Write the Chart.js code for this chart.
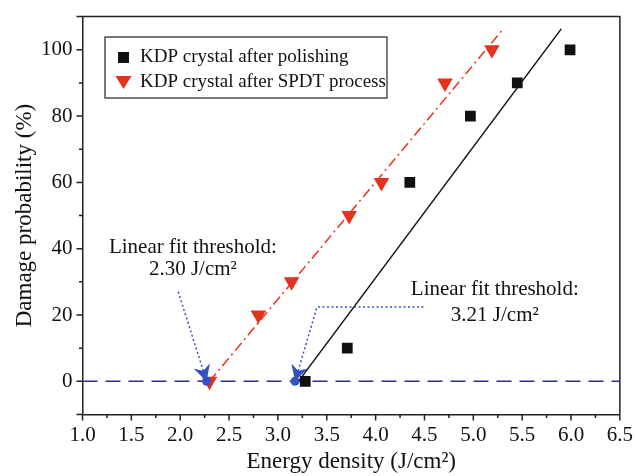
<!DOCTYPE html>
<html><head><meta charset="utf-8">
<script src="https://cdn.jsdelivr.net/npm/chart.js@4/dist/chart.umd.min.js"></script>
<style>html,body{margin:0;padding:0;background:#fff;} #wrap{width:635px;height:476px;position:relative;}</style>
</head><body><div id="wrap"><canvas id="c" width="635" height="476"></canvas></div>
<script>
// ---- data ----
const polishX = [3.28, 3.71, 4.35, 4.97, 5.45, 5.99];
const polishY = [0, 10, 60, 80, 90, 100];
const spdtX = [2.30, 2.80, 3.14, 3.73, 4.06, 4.71, 5.19];
const spdtY = [0, 20, 30, 50, 60, 90, 100];
const polishFitX = [3.21, 5.90];
const polishFitY = [0, 106.3];
const spdtFitX = [2.30, 5.29];
const spdtFitY = [0, 105.7];
const zeroLineX = [1.0, 6.5];
const zeroLineY = [0, 0];
const xMajorTicks = [1.0, 1.5, 2.0, 2.5, 3.0, 3.5, 4.0, 4.5, 5.0, 5.5, 6.0, 6.5];
const yMajorTicks = [0, 20, 40, 60, 80, 100];
const seriesLabels = ['KDP crystal after polishing', 'KDP crystal after SPDT process'];
const arrow1X = [1.98, 2.27];
const arrow1Y = [27, 0];
const arrow2X = [4.49, 3.40, 3.175];
const arrow2Y = [22.4, 22.4, 0];
const note1Lines = ['Linear fit threshold:', '2.30 J/cm²'];
const note2Lines = ['Linear fit threshold:', '3.21 J/cm²'];

const pts = (xs, ys) => xs.map((x, i) => ({x, y: ys[i]}));
const FONT = "'Liberation Serif','Times New Roman',serif";
const RED = '#e4321f';
const BLUE = '#3253c0';
const NAVY = '#2c2c92';

const isMajor = (v, arr) => arr.some(a => Math.abs(a - v) < 1e-6);

const decorPlugin = {
  id: 'decor',
  afterDraw(chart) {
    const ctx = chart.ctx;
    const xs = chart.scales.x, ys = chart.scales.y;
    const ca = chart.chartArea;
    ctx.save();
    ctx.strokeStyle = '#222';
    ctx.lineWidth = 1.5;
    ctx.beginPath();
    ctx.moveTo(ca.left, ca.top); ctx.lineTo(ca.right, ca.top); ctx.lineTo(ca.right, ca.bottom);
    ctx.stroke();
    ctx.beginPath();
    xs.ticks.forEach(t => {
      const px = xs.getPixelForValue(t.value);
      const len = isMajor(t.value, xMajorTicks) ? 6 : 3.5;
      ctx.moveTo(px, ca.bottom); ctx.lineTo(px, ca.bottom + len);
    });
    ys.ticks.forEach(t => {
      const py = ys.getPixelForValue(t.value);
      const maj = isMajor(t.value, yMajorTicks) || t.value === ys.min || t.value === ys.max;
      const len = maj ? 6 : 3.5;
      ctx.moveTo(ca.left, py); ctx.lineTo(ca.left - len, py);
    });
    ctx.stroke();
    ctx.restore();
  },
  afterDatasetsDraw(chart) {
    const ctx = chart.ctx;
    const xs = chart.scales.x, ys = chart.scales.y;
    const P = (x, y) => [xs.getPixelForValue(x), ys.getPixelForValue(y)];
    ctx.save();
    [[arrow1X, arrow1Y], [arrow2X, arrow2Y]].forEach(([ax, ay]) => {
      const p = ax.map((x, i) => P(x, ay[i]));
      ctx.strokeStyle = BLUE; ctx.lineWidth = 1.5; ctx.setLineDash([2, 2.5]);
      ctx.beginPath();
      ctx.moveTo(p[0][0], p[0][1]);
      for (let i = 1; i < p.length; i++) ctx.lineTo(p[i][0], p[i][1]);
      ctx.stroke();
      ctx.setLineDash([]);
      const a = p[p.length - 2], b = p[p.length - 1];
      let dx = b[0] - a[0], dy = b[1] - a[1];
      const l = Math.hypot(dx, dy); dx /= l; dy /= l;
      const nx = -dy, ny = dx;
      const L = 16, W = 8.5, N = 11;
      ctx.fillStyle = BLUE;
      ctx.beginPath();
      ctx.moveTo(b[0], b[1]);
      ctx.lineTo(b[0] - dx * L + nx * W, b[1] - dy * L + ny * W);
      ctx.lineTo(b[0] - dx * N, b[1] - dy * N);
      ctx.lineTo(b[0] - dx * L - nx * W, b[1] - dy * L - ny * W);
      ctx.closePath(); ctx.fill();
      ctx.beginPath(); ctx.arc(b[0], b[1], 4.5, 0, Math.PI * 2); ctx.fill();
    });
    ctx.fillStyle = '#111';
    ctx.font = '21px ' + FONT;
    ctx.textAlign = 'center'; ctx.textBaseline = 'middle';
    const n1 = [P(2.13, 40.5), P(2.13, 33.6)];
    note1Lines.forEach((s, i) => ctx.fillText(s, n1[i][0], n1[i][1]));
    const n2 = [P(5.22, 27.6), P(5.22, 19.8)];
    note2Lines.forEach((s, i) => ctx.fillText(s, n2[i][0], n2[i][1]));
    const lx = 105, ly = 37, lw = 282, lh = 61;
    ctx.strokeStyle = '#222'; ctx.lineWidth = 1.2;
    ctx.fillStyle = '#fff';
    ctx.fillRect(lx, ly, lw, lh);
    ctx.strokeRect(lx, ly, lw, lh);
    ctx.font = '19px ' + FONT;
    ctx.textAlign = 'left'; ctx.fillStyle = '#111';
    ctx.fillText(seriesLabels[0], 140, 57);
    ctx.fillText(seriesLabels[1], 140, 82);
    ctx.fillStyle = '#111';
    ctx.fillRect(118, 52, 11, 11);
    ctx.fillStyle = RED;
    ctx.beginPath(); ctx.moveTo(115.5, 76); ctx.lineTo(131.5, 76); ctx.lineTo(123.5, 89); ctx.closePath(); ctx.fill();
    ctx.restore();
  }
};

new Chart(document.getElementById('c'), {
  type: 'scatter',
  data: {
    datasets: [
      { label: seriesLabels[0], data: pts(polishX, polishY), pointStyle: 'rect', pointRadius: 7.6,
        backgroundColor: '#111', borderColor: '#111', borderWidth: 0, order: 1 },
      { label: seriesLabels[1], data: pts(spdtX, spdtY), pointStyle: 'triangle', rotation: 180, pointRadius: 9,
        backgroundColor: RED, borderColor: RED, borderWidth: 0, order: 2 },
      { label: 'fit1', data: pts(polishFitX, polishFitY), showLine: true, pointRadius: 0,
        borderColor: '#111', borderWidth: 1.5, order: 3 },
      { label: 'fit2', data: pts(spdtFitX, spdtFitY), showLine: true, pointRadius: 0,
        borderColor: RED, borderWidth: 1.5, borderDash: [10, 4, 2, 4], order: 4 },
      { label: 'zero', data: pts(zeroLineX, zeroLineY), showLine: true, pointRadius: 0,
        borderColor: NAVY, borderWidth: 1.5, borderDash: [15, 8], order: 5 }
    ]
  },
  options: {
    responsive: false, animation: false, devicePixelRatio: 1,
    layout: { padding: { top: 15, right: 15, left: 0, bottom: 0 } },
    plugins: { legend: { display: false }, tooltip: { enabled: false } },
    scales: {
      x: {
        type: 'linear', min: 1.0, max: 6.5,
        afterFit: s => { s.height = 61.5; },
        ticks: { stepSize: 0.25, autoSkip: false, maxRotation: 0, color: '#111', padding: 2,
          font: { family: FONT, size: 21 },
          callback: v => isMajor(v, xMajorTicks) ? v.toFixed(1) : '' },
        grid: { drawOnChartArea: false, drawTicks: true, tickLength: 6, color: 'rgba(0,0,0,0)' },
        border: { display: true, color: '#222', width: 1.5 },
        title: { display: true, text: 'Energy density (J/cm²)', color: '#111',
          font: { family: FONT, size: 23 }, padding: { top: 0, bottom: 0 } }
      },
      y: {
        type: 'linear', min: -10, max: 110,
        afterFit: s => { s.width = 82.5; },
        ticks: { stepSize: 10, autoSkip: false, color: '#111', padding: 4,
          font: { family: FONT, size: 21 },
          callback: v => isMajor(v, yMajorTicks) ? String(v) : '' },
        grid: { drawOnChartArea: false, drawTicks: true, tickLength: 6, color: 'rgba(0,0,0,0)' },
        border: { display: true, color: '#222', width: 1.5 },
        title: { display: true, text: 'Damage probability (%)', color: '#111',
          font: { family: FONT, size: 23 }, padding: { top: 11, bottom: 0 } }
      }
    }
  },
  plugins: [decorPlugin]
});
</script></body></html>
